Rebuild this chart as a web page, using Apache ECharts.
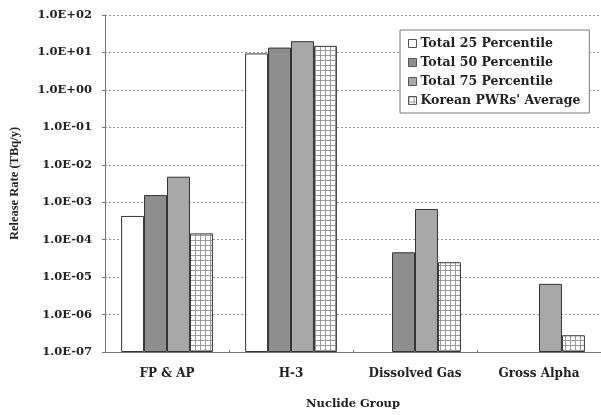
<!DOCTYPE html>
<html><head><meta charset="utf-8">
<script src="https://cdn.jsdelivr.net/npm/echarts@6/dist/echarts.min.js"></script>
<style>html,body{margin:0;padding:0;background:#fff}#c{width:601px;height:415px}</style>
</head><body><div id="c"></div>
<script>
const categories = ['FP & AP', 'H-3', 'Dissolved Gas', 'Gross Alpha'];
const seriesNames = ['Total 25 Percentile', 'Total 50 Percentile', 'Total 75 Percentile', "Korean PWRs' Average"];
const p25 = [4.3e-4, 9.4, null, null];
const p50 = [1.55e-3, 13.5, 4.6e-5, null];
const p75 = [4.8e-3, 20, 6.6e-4, 6.6e-6];
const korean = [1.47e-4, 15, 2.5e-5, 2.8e-7];
const yMin = 1e-7, yMax = 100;

const pc = document.createElement('canvas');
pc.width = 5; pc.height = 5;
const g = pc.getContext('2d');
g.fillStyle = '#ffffff'; g.fillRect(0, 0, 5, 5);
g.fillStyle = '#9a9a9a'; g.fillRect(0, 0, 5, 1); g.fillRect(0, 0, 1, 5);

const fontF = 'DejaVu Serif';
const chart = echarts.init(document.getElementById('c'), null, {renderer: 'canvas'});
const series = [];
function mk(idx, name, data, color) {
  const stack = 's' + idx;
  // invisible base so bars grow from the bottom of the log axis (log bars otherwise start at 1)
  series.push({
    name: '_base' + idx, type: 'bar', stack: stack, silent: true,
    data: categories.map(() => yMin),
    barGap: '0%', barCategoryGap: '26%',
    itemStyle: {color: 'rgba(0,0,0,0)', borderWidth: 0}
  });
  series.push({
    name: name, type: 'bar', stack: stack,
    data: data.map(v => v == null ? '-' : v - yMin),
    barGap: '0%', barCategoryGap: '26%',
    itemStyle: {color: color, borderColor: '#333', borderWidth: 1}
  });
}
mk(0, seriesNames[0], p25, '#ffffff');
mk(1, seriesNames[1], p50, '#8e8e8e');
mk(2, seriesNames[2], p75, '#a8a8a8');
mk(3, seriesNames[3], korean, {image: pc, repeat: 'repeat'});

chart.setOption({
  backgroundColor: '#ffffff',
  animation: false,
  grid: {left: 101, top: 15, right: 0, bottom: 57},
  legend: {
    orient: 'vertical', left: 400, top: 30, icon: 'rect',
    padding: [7, 9, 6, 8], itemGap: 6,
    itemWidth: 8, itemHeight: 8, itemStyle: {borderColor: '#555', borderWidth: 1},
    backgroundColor: '#fff', borderColor: '#777', borderWidth: 1,
    textStyle: {fontFamily: fontF, fontWeight: 'bold', fontSize: 12.5, color: '#222', padding: [0, 0, 0, -1]},
    data: seriesNames
  },
  xAxis: {
    type: 'category', data: categories,
    name: 'Nuclide Group', nameLocation: 'middle', nameGap: 46,
    nameTextStyle: {fontFamily: fontF, fontWeight: 'bold', fontSize: 11.5, color: '#222'},
    axisLine: {lineStyle: {color: '#777'}},
    axisTick: {show: true, inside: true, length: 2, lineStyle: {color: '#777'}},
    axisLabel: {interval: 0, fontFamily: fontF, fontWeight: 'bold', fontSize: 12, color: '#222', margin: 16}
  },
  yAxis: {
    type: 'log', logBase: 10, min: yMin, max: yMax, interval: 1,
    name: 'Release Rate (TBq/y)', nameLocation: 'middle', nameGap: 84,
    nameTextStyle: {fontFamily: 'Liberation Serif', fontWeight: 'bold', fontSize: 12.5, color: '#222'},
    axisLine: {show: true, lineStyle: {color: '#777'}},
    axisTick: {show: true, length: 3, lineStyle: {color: '#777'}},
    splitLine: {show: true, lineStyle: {color: '#999', type: [2, 2], width: 1}},
    axisLabel: {
      fontFamily: fontF, fontWeight: 'bold', fontSize: 11.5, color: '#222', margin: 13,
      formatter: function (v) {
        const e = Math.round(Math.log10(v));
        return '1.0E' + (e < 0 ? '-' : '+') + String(Math.abs(e)).padStart(2, '0');
      }
    }
  },
  series: series
});
</script></body></html>
